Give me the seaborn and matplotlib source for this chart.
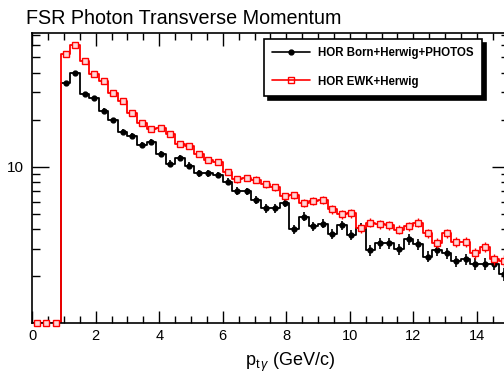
import numpy as np
import pandas as pd
import matplotlib
matplotlib.use("Agg")
import matplotlib.pyplot as plt
import seaborn as sns

# bin edges 0..15 GeV/c, 0.3 wide
edges = np.linspace(0, 15, 51)
centers = (edges[:-1] + edges[1:]) / 2

# HOR Born+Herwig+PHOTOS (black)
born = [1.0, 1.0, 1.0, 34.1, 40.0, 29.2, 27.4, 22.9, 19.9, 16.8,
        15.8, 13.8, 14.4, 12.06, 10.5, 11.4, 10.2, 9.10, 9.10, 8.87,
        8.06, 7.03, 6.96, 6.12, 5.43, 5.43, 5.90, 3.99, 4.80, 4.18,
        4.34, 3.71, 4.25, 3.67, 4.09, 2.94, 3.25, 3.25, 2.97, 3.44,
        3.20, 2.67, 2.94, 2.81, 2.50, 2.57, 2.39, 2.39, 2.39, 2.06]
born_err = [0.0, 0.0, 0.0, 1.0, 1.1, 0.9, 0.85, 0.75, 0.7, 0.65,
            0.6, 0.55, 0.57, 0.52, 0.48, 0.5, 0.47, 0.44, 0.44, 0.43,
            0.41, 0.38, 0.38, 0.35, 0.33, 0.33, 0.35, 0.28, 0.31, 0.29,
            0.3, 0.27, 0.29, 0.27, 0.28, 0.23, 0.25, 0.25, 0.24, 0.26,
            0.25, 0.22, 0.23, 0.23, 0.21, 0.22, 0.21, 0.21, 0.21, 0.19]

# HOR EWK+Herwig (red)
ewk = [1.0, 1.0, 1.0, 52.7, 60.1, 47.5, 39.5, 35.6, 29.6, 26.2,
       22.1, 19.2, 17.5, 17.7, 16.2, 13.9, 13.5, 12.0, 11.0, 10.75,
       9.27, 8.34, 8.51, 8.30, 7.72, 7.41, 6.47, 6.56, 5.90, 6.04,
       6.13, 5.35, 4.97, 5.04, 4.05, 4.40, 4.29, 4.25, 3.97, 4.19,
       4.40, 3.76, 3.25, 3.76, 3.33, 3.33, 2.81, 3.09, 2.57, 2.50]
ewk_err = [0.0, 0.0, 0.0, 1.2, 1.3, 1.1, 1.0, 0.95, 0.85, 0.8,
           0.72, 0.67, 0.63, 0.64, 0.6, 0.55, 0.54, 0.5, 0.48, 0.47,
           0.44, 0.41, 0.42, 0.41, 0.39, 0.38, 0.35, 0.36, 0.33, 0.34,
           0.34, 0.32, 0.3, 0.3, 0.27, 0.28, 0.28, 0.28, 0.27, 0.28,
           0.28, 0.26, 0.24, 0.26, 0.25, 0.25, 0.23, 0.24, 0.22, 0.22]

df = pd.DataFrame({"pt": centers, "born": born, "ewk": ewk})

sns.set_style("ticks")
plt.rcParams["font.family"] = ["Liberation Sans", "DejaVu Sans"]
plt.rcParams["mathtext.fontset"] = "custom"
plt.rcParams["mathtext.rm"] = "Liberation Sans"
plt.rcParams["mathtext.it"] = "Liberation Sans:italic"
plt.rcParams["text.color"] = "black"

fig = plt.figure(figsize=(5.04, 3.83), dpi=100)
# frame runs a little past the right edge of the picture, like the original
ax = fig.add_axes([32.2 / 504, 1 - 323.3 / 383, 476.4 / 504, 290.3 / 383])

sns.histplot(data=df, x="pt", weights="born", binwidth=0.3, binrange=(0, 15),
             element="step", fill=False, color="black", lw=1.3, ax=ax)
sns.histplot(data=df, x="pt", weights="ewk", binwidth=0.3, binrange=(0, 15),
             element="step", fill=False, color="red", lw=1.3, ax=ax)

ax.errorbar(centers, born, yerr=born_err, fmt="o", color="black", ms=3.5,
            elinewidth=1.2, capsize=0, clip_on=False, zorder=4)
ax.errorbar(centers, ewk, yerr=ewk_err, fmt="s", color="red", mfc="#ffd6d6",
            mec="red", mew=1.0, ms=5, elinewidth=1.0, capsize=0,
            clip_on=False, zorder=5)

ax.set_yscale("log")
ax.set_xlim(0, 15)
ax.set_ylim(1, 71.7)
ax.set_xlabel("")
ax.set_ylabel("")

ax.set_xticks(np.arange(0, 16, 2))
ax.set_xticks(np.arange(0, 15.01, 0.5), minor=True)
ax.set_yticks([10])
ax.set_yticklabels(["10"])
ax.set_yticks([2, 3, 4, 5, 6, 7, 8, 9, 20, 30, 40, 50, 60, 70], minor=True)
ax.yaxis.set_minor_formatter(matplotlib.ticker.NullFormatter())

ax.tick_params(axis="both", which="both", direction="in", top=True, right=True,
               color="black", labelcolor="black")
ax.tick_params(axis="x", which="major", length=9, width=1, labelsize=10.5, pad=4)
ax.tick_params(axis="x", which="minor", length=5, width=1)
ax.tick_params(axis="y", which="major", length=12, width=1, labelsize=11, pad=6)
ax.tick_params(axis="y", which="minor", length=6, width=1)
for s in ax.spines.values():
    s.set_linewidth(1.2)
    s.set_color("black")

# legend
h1 = matplotlib.lines.Line2D([], [], color="black", marker="o", ms=3.5, lw=1.2)
h2 = matplotlib.lines.Line2D([], [], color="red", marker="s", mfc="none", ms=5, lw=1.2)
leg = ax.legend([h1, h2], ["HOR Born+Herwig+PHOTOS", "HOR EWK+Herwig"],
                loc="upper left", bbox_to_anchor=(264 / 504, 1 - 39.3 / 383),
                bbox_transform=fig.transFigure, fancybox=False, framealpha=1,
                edgecolor="black", prop={"weight": "bold", "size": 8.3},
                handlelength=3.3, handletextpad=0.7, labelspacing=1.4,
                borderpad=0.7, borderaxespad=0,
                shadow={"ox": 3, "oy": -3, "facecolor": "black",
                        "edgecolor": "black", "alpha": 1})
leg.get_frame().set_linewidth(1.2)

fig.text(26 / 504, 1 - 18 / 383, "FSR Photon Transverse Momentum",
         fontsize=14.2, ha="left", va="center")
fig.text(290 / 504, 1 - 362 / 383, r"p$_{\mathrm{t}\,\gamma}$ (GeV/c)",
         fontsize=13, ha="center", va="center")

fig.savefig("out.png", dpi=100)
